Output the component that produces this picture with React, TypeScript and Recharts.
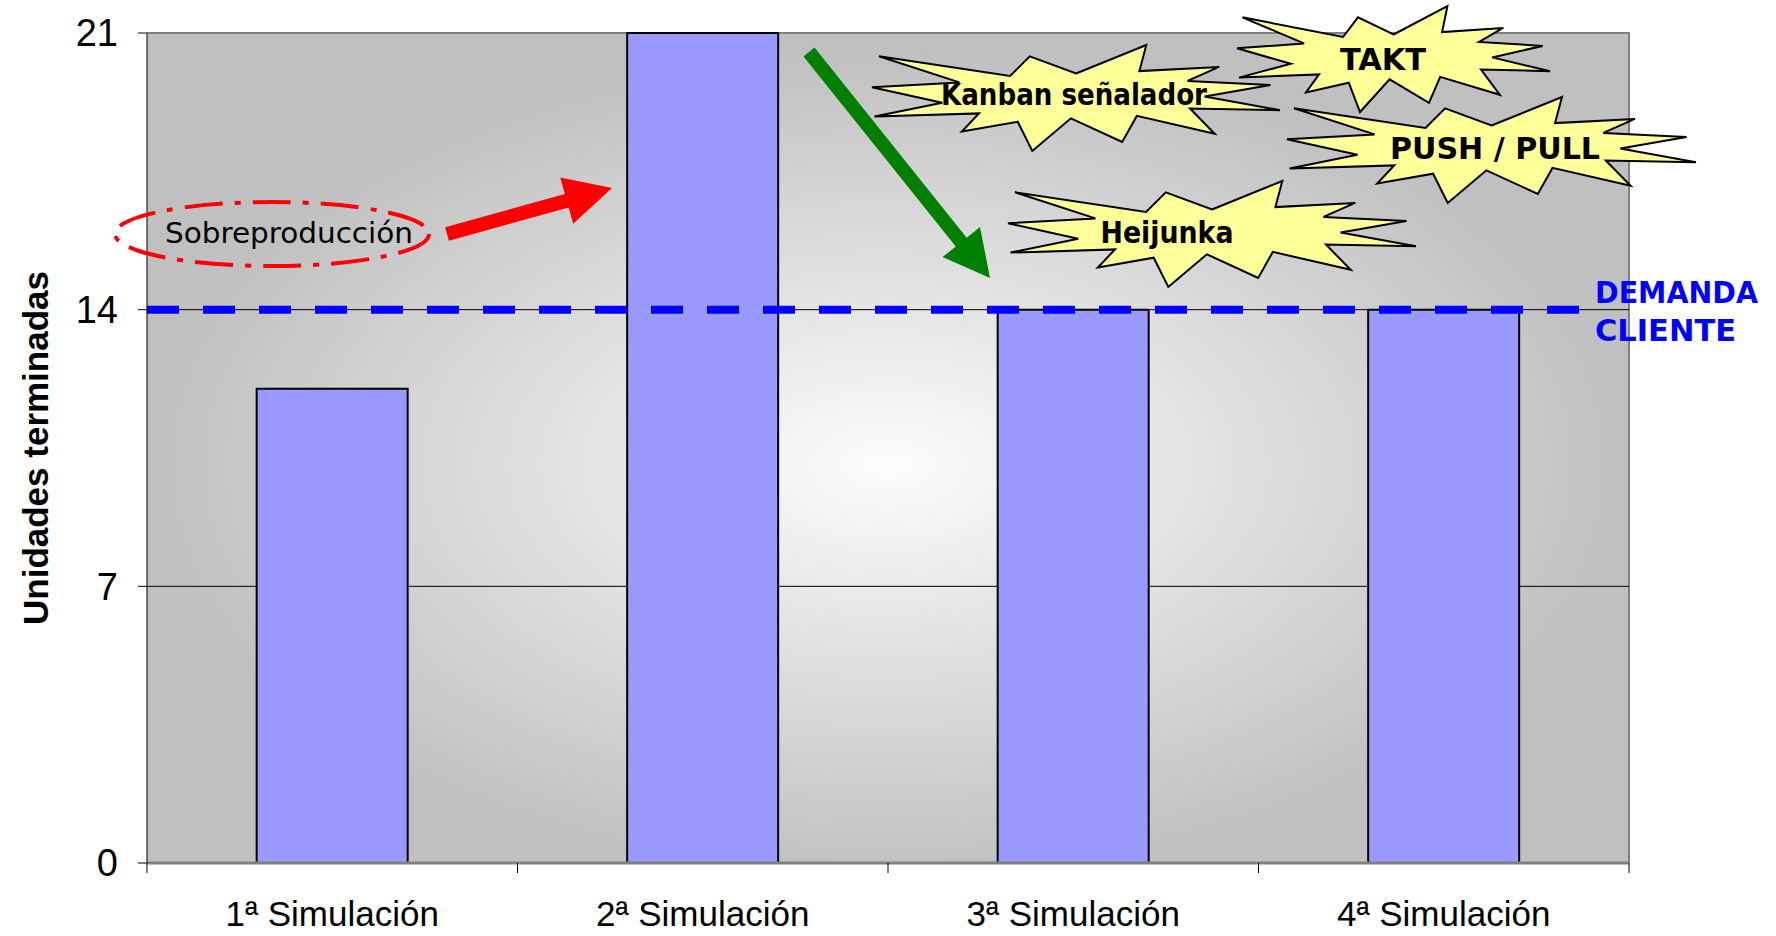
import React from "react";
import { BarChart, Bar, XAxis, YAxis, CartesianGrid, ReferenceLine } from "recharts";

// datos
const simulaciones = ["1ª Simulación", "2ª Simulación", "3ª Simulación", "4ª Simulación"];
const unidadesTerminadas = [12, 21, 14, 14];
const ticksY = [0, 7, 14, 21];
const lineasGuia = [7, 14];
const demandaCliente = 14;

const data = simulaciones.map((nombre, i) => ({ nombre, unidades: unidadesTerminadas[i] }));

const W = 1776;
const H = 936;
const PLOT = { left: 147, top: 33, right: 1629, bottom: 863 };
const CAT_W = (PLOT.right - PLOT.left) / simulaciones.length;
const FONT = "'Liberation Sans', Arial, sans-serif";
const NOTE_FONT = "'DejaVu Sans Condensed', 'DejaVu Sans', sans-serif";

// la línea de demanda acaba un poco antes del borde derecho
const DEMANDA_DASH = Array(25).fill("32 24").join(" ") + " 32 200";

// contorno de "explosión" (forma de Office), en unidades de 21600
const explosion = [
  [10800, 5800], [14522, 0], [14155, 5325], [18380, 4457], [16702, 7315], [21097, 8137],
  [17607, 10475], [21600, 13290], [16837, 12942], [18145, 18095], [14020, 14457], [13247, 19737],
  [10532, 14935], [8485, 21600], [7715, 15627], [4762, 17617], [5667, 13937], [135, 14587],
  [3722, 11775], [0, 8615], [4627, 7617], [370, 2295], [7312, 6320], [8352, 2295],
];

function starPath(x0: number, y0: number, x1: number, y1: number) {
  const w = x1 - x0;
  const h = y1 - y0;
  return explosion.map(([px, py]) => `${(x0 + (px / 21600) * w).toFixed(1)},${(y0 + (py / 21600) * h).toFixed(1)}`).join(" ");
}

function arrowPath(sx: number, sy: number, tx: number, ty: number, shaft: number, headLen: number, headHalf: number) {
  const dx = tx - sx;
  const dy = ty - sy;
  const len = Math.hypot(dx, dy);
  const ux = dx / len, uy = dy / len;
  const nx = -uy, ny = ux;
  const bx = tx - ux * headLen, by = ty - uy * headLen;
  const pts = [
    [sx + nx * shaft, sy + ny * shaft],
    [bx + nx * shaft, by + ny * shaft],
    [bx + nx * headHalf, by + ny * headHalf],
    [tx, ty],
    [bx - nx * headHalf, by - ny * headHalf],
    [bx - nx * shaft, by - ny * shaft],
    [sx - nx * shaft, sy - ny * shaft],
  ];
  return pts.map((p) => `${p[0].toFixed(1)},${p[1].toFixed(1)}`).join(" ");
}

const estrellas = [
  { texto: "Kanban señalador", box: [872, 45, 1280, 151], cx: 1074, base: 105, ancho: 266 },
  { texto: "TAKT", box: [1237, 6, 1550, 112], cx: 1383, base: 70, ancho: 86 },
  { texto: "PUSH / PULL", box: [1287, 97, 1696, 203], cx: 1495, base: 159, ancho: 210 },
  { texto: "Heijunka", box: [1008, 181, 1416, 287], cx: 1167, base: 243, ancho: 133 },
];

function SimTick(props: any) {
  const { x, y, payload, index } = props;
  const half = CAT_W / 2;
  return (
    <g>
      <line x1={x - half} x2={x - half} y1={y - 10} y2={y} stroke="#000" strokeWidth={1} />
      {index === simulaciones.length - 1 && (
        <line x1={x + half} x2={x + half} y1={y - 10} y2={y} stroke="#000" strokeWidth={1} />
      )}
      <text x={x} y={y + 53} textAnchor="middle" fontSize={35} fontFamily={FONT} fill="#000">
        {payload.value}
      </text>
    </g>
  );
}

function Fondo() {
  return (
    <svg width={W} height={H} style={{ position: "absolute", left: 0, top: 0 }}>
      <defs>
        <radialGradient id="fondoGradiente" cx="0.5" cy="0.52" r="0.5">
          <stop offset="0" stopColor="#fcfcfc" />
          <stop offset="1" stopColor="#c0c0c0" />
        </radialGradient>
      </defs>
      <rect x={PLOT.left} y={PLOT.top} width={PLOT.right - PLOT.left} height={PLOT.bottom - PLOT.top} fill="url(#fondoGradiente)" />
      <polyline
        points={`${PLOT.left},${PLOT.top} ${PLOT.right},${PLOT.top} ${PLOT.right},${PLOT.bottom}`}
        fill="none"
        stroke="#808080"
        strokeWidth={2}
      />
    </svg>
  );
}

function Anotaciones() {
  return (
    <svg width={W} height={H} style={{ position: "absolute", left: 0, top: 0, pointerEvents: "none" }}>
      <ellipse cx={272} cy={234} rx={157} ry={32} fill="none" stroke="#ff0000" strokeWidth={4} strokeDasharray="38 12 6 12" />
      <text x={289} y={243} textAnchor="middle" fontSize={29} fontFamily={NOTE_FONT} fill="#000" textLength={248} lengthAdjust="spacingAndGlyphs">
        Sobreproducción
      </text>
      <polygon points={arrowPath(447, 234, 612, 188, 7, 47, 24)} fill="#ff0000" />
      <polygon points={arrowPath(809, 52, 990, 278, 7, 46, 24)} fill="#008000" />
      {estrellas.map((s) => (
        <g key={s.texto}>
          <polygon points={starPath(s.box[0], s.box[1], s.box[2], s.box[3])} fill="#ffff99" stroke="#000" strokeWidth={2} strokeLinejoin="miter" />
          <text x={s.cx} y={s.base} textAnchor="middle" fontSize={30} fontWeight="bold" fontFamily={NOTE_FONT} fill="#000" textLength={s.ancho} lengthAdjust="spacingAndGlyphs">
            {s.texto}
          </text>
        </g>
      ))}
      <text fontSize={31} fontWeight="bold" fontFamily={NOTE_FONT} fill="#0000ff">
        <tspan x={1595} y={303} textLength={163} lengthAdjust="spacingAndGlyphs">DEMANDA</tspan>
        <tspan x={1595} y={341} textLength={141} lengthAdjust="spacingAndGlyphs">CLIENTE</tspan>
      </text>
    </svg>
  );
}

export default function App() {
  return (
    <div style={{ position: "absolute", left: 0, top: 0, width: W, height: H, background: "#fff" }}>
      <Fondo />
      <BarChart
        width={W}
        height={H}
        data={data}
        margin={{ top: PLOT.top, right: W - PLOT.right, bottom: 0, left: 0 }}
        barCategoryGap="29.6%"
      >
        <CartesianGrid vertical={false} horizontalValues={lineasGuia} stroke="#000" strokeWidth={1} fill="none" />
        <XAxis
          dataKey="nombre"
          height={H - PLOT.bottom}
          interval={0}
          tickLine={false}
          tickSize={10}
          tickMargin={0}
          axisLine={{ stroke: "#808080", strokeWidth: 3 }}
          tick={(p: any) => <SimTick {...p} />}
        />
        <YAxis
          width={PLOT.left}
          domain={[0, 21]}
          ticks={ticksY}
          interval={0}
          tickSize={9}
          tickMargin={20}
          axisLine={{ stroke: "#000", strokeWidth: 1 }}
          tickLine={{ stroke: "#000", strokeWidth: 1 }}
          tick={{ fontSize: 38, fontFamily: FONT, fill: "#000" }}
          label={{
            value: "Unidades terminadas",
            angle: -90,
            position: "insideLeft",
            offset: 36,
            style: { textAnchor: "middle", fontSize: 35, fontWeight: "bold", fontFamily: FONT, fill: "#000" },
          }}
        />
        <Bar dataKey="unidades" fill="#9999ff" stroke="#000" strokeWidth={2} isAnimationActive={false} />
        <ReferenceLine y={demandaCliente} stroke="#0000ff" strokeWidth={8} strokeDasharray={DEMANDA_DASH} />
      </BarChart>
      <Anotaciones />
    </div>
  );
}
